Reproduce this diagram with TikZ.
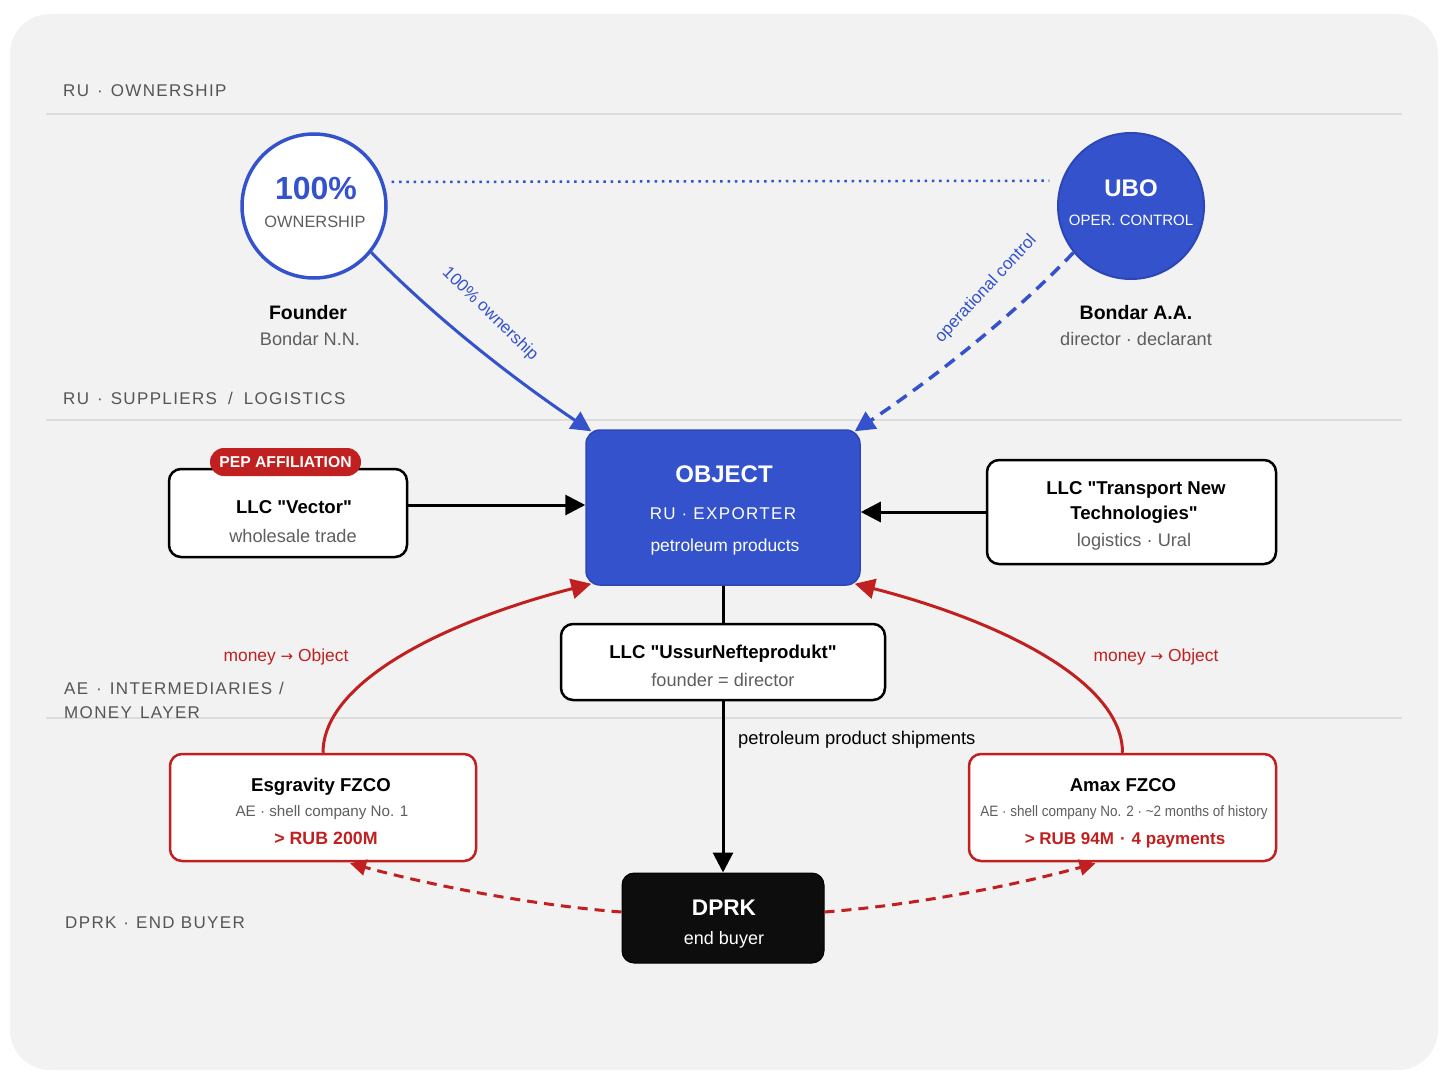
\documentclass[tikz,border=0pt]{standalone}
\usepackage{graphicx}
\usepackage{fontspec}
\setmainfont{Liberation Sans}
\newfontfamily\spacedfont[LetterSpace=8]{Liberation Sans}
\newfontfamily\dejavu{DejaVu Sans}
\usetikzlibrary{arrows.meta,calc}
\definecolor{bgc}{HTML}{F2F2F2}
\definecolor{rulec}{HTML}{DCDCDC}
\definecolor{blu}{HTML}{3352CC}
\definecolor{bluedge}{HTML}{2C47B5}
\definecolor{redc}{HTML}{C0201F}
\definecolor{grayt}{HTML}{5E5E5E}
\definecolor{sectc}{HTML}{555555}
\newcommand\fs[1]{\fontsize{#1}{#1}\selectfont}
\newcommand\sdot{\hspace{8pt}·\hspace{8pt}}
\newcommand\sslash{\hspace{11pt}/\hspace{11pt}}
\newcommand\qq{\textquotedbl}
\newcommand\rarr{{\dejavu\fs{15}→}}
\begin{document}
\begin{tikzpicture}[x=1pt,y=-1pt,
  sectlabel/.style={anchor=base west, text=sectc, font=\spacedfont\fs{17}, inner sep=0},
  sectrule/.style={draw=rulec, line width=1.2pt},
  card/.style={draw=black, line width=2.5pt, fill=white, rounded corners=12pt, inner sep=0},
  redcard/.style={card, draw=redc},
  ttl/.style={anchor=base, font=\bfseries\fs{18.6}, inner sep=0},
  sub/.style={anchor=base, font=\fs{18.2}, text=grayt, inner sep=0},
  arr/.style={line width=3pt, -{Triangle[length=20pt,width=20pt]}}
]
% background
\fill[white] (0,0) rectangle (1448,1086);
\fill[bgc, rounded corners=40pt] (10,14) rectangle (1438,1070);
\useasboundingbox (0,0) rectangle (1448,1086);

% section rules and labels
\draw[sectrule] (46,114) -- (1402,114);
\draw[sectrule] (46,420) -- (1402,420);
\draw[sectrule] (46,718) -- (1402,718);
\node[sectlabel] (s1) at (63,97) {RU\sdot OWNERSHIP};
\node[sectlabel] (s2) at (63,404) {RU\sdot SUPPLIERS\sslash LOGISTICS};
\node[sectlabel] (s3) at (64,694) {AE\sdot INTERMEDIARIES\hspace{7pt}/};
\node[sectlabel] (s3b) at (64,718) {MONEY\hspace{2pt} LAYER};
\node[sectlabel] (s4) at (65,928) {DPRK\hspace{7pt}·\hspace{7pt}END BUYER};

% circles
\node[circle, draw=blu, line width=3.5pt, fill=white, minimum size=144pt, inner sep=0] (fc) at (314,206) {};
\node[anchor=base, text=blu, font=\bfseries\fs{32}, inner sep=0] (fcT) at (316,199.5) {100\%};
\node[anchor=base, text=grayt, font=\fs{16.4}, inner sep=0] (fcS) at (315,228) {OWNERSHIP};
\node[ttl, font=\bfseries\fs{19.5}] (fN) at (308,319) {Founder};
\node[sub] (fS) at (310,345) {Bondar N.N.};

\node[circle, draw=bluedge, line width=2pt, fill=blu, minimum size=146pt, inner sep=0] (ubo) at (1131,206) {};
\node[anchor=base, text=white, font=\bfseries\fs{24}, inner sep=0] (uboT) at (1131,196.5) {UBO};
\node[anchor=base, text=white, font=\fs{15}, inner sep=0] (uboS) at (1131,225.5) {OPER. CONTROL};
\node[ttl, font=\bfseries\fs{19.5}] (uN) at (1136,319) {Bondar A.A.};
\node[sub] (uS) at (1136,345) {director · declarant};

\draw[blu, line width=2.5pt, dash pattern=on 2.5pt off 4.8pt, shorten <=8pt, shorten >=12pt] (fc.19.5) -- (ubo.160.5);

% object
\node[draw=bluedge, line width=1.5pt, fill=blu, rounded corners=14pt, minimum width=274pt, minimum height=155pt, inner sep=0] (obj) at (723,507.5) {};
\node[anchor=base, text=white, font=\bfseries\fs{24}, inner sep=0] (objT) at (724,482.5) {OBJECT};
\node[anchor=base, text=white, font=\spacedfont\fs{17}, inner sep=0] (objS) at (723,519) {RU\hspace{6pt}·\hspace{6pt}EXPORTER};
\node[anchor=base, text=white, font=\fs{17.4}, inner sep=0] (objP) at (725,551) {petroleum products};

% vector
\node[card, minimum width=238pt, minimum height=88pt] (vector) at (288,513) {};
\node[fill=redc, rounded corners=14pt, minimum width=151pt, minimum height=28pt, inner sep=0] (pep) at (285.5,462) {};
\node[anchor=base, text=white, font=\bfseries\fs{15.7}, inner sep=0] (pepT) at (285.5,467.5) {PEP AFFILIATION};
\node[ttl] (vecT) at (294,513) {LLC \qq Vector\qq};
\node[sub] (vecS) at (293,542) {wholesale trade};

% transport
\node[card, minimum width=289pt, minimum height=104pt] (tnt) at (1131.5,512) {};
\node[ttl] (tntT) at (1136,494) {LLC \qq Transport New};
\node[ttl] (tntT2) at (1134,519) {Technologies\qq};
\node[sub] (tntS) at (1134,546) {logistics · Ural};

% ussur
\node[card, minimum width=324pt, minimum height=76pt] (ussur) at (723,662) {};
\node[ttl] (usT) at (723,658) {LLC \qq UssurNefteprodukt\qq};
\node[sub] (usS) at (723,686) {founder = director};

% esgravity
\node[redcard, minimum width=306pt, minimum height=107pt] (esg) at (323,807.5) {};
\node[ttl] (esT) at (321,791) {Esgravity FZCO};
\node[sub, font=\fs{15.2}] (esS) at (322,816.5) {AE · shell company No. 1};
\node[anchor=base, text=redc, font=\bfseries\fs{17.8}, inner sep=0] (esR) at (326,844.5) {> RUB 200M};

% amax
\node[redcard, minimum width=307pt, minimum height=107pt] (amax) at (1122.5,807.5) {};
\node[ttl] (amT) at (1123,791) {Amax FZCO};
\node[sub, font=\fs{15}] (amS) at (1124,816.5) {\scalebox{0.9}[1]{AE · shell company No. 2 · \textasciitilde2 months of history}};
\node[anchor=base, text=redc, font=\bfseries\fs{17}, inner sep=0] (amR) at (1125,844.5) {> RUB 94M\hspace{6pt}·\hspace{6pt}4 payments};

% dprk
\node[fill=black!95, draw=black, line width=1pt, rounded corners=12pt, minimum width=202pt, minimum height=90pt, inner sep=0] (dprk) at (723,918) {};
\node[anchor=base, text=white, font=\bfseries\fs{22.6}, inner sep=0] (dpT) at (724,915) {DPRK};
\node[anchor=base, text=white, font=\fs{18}, inner sep=0] (dpS) at (724,944) {end buyer};

% connectors
\draw[blu, line width=3pt, -{Triangle[length=20pt,width=20pt]}]
  (fc.-39) .. controls (435,318) and (515,380) .. ([xshift=6pt,yshift=-2pt]obj.north west);
\node[text=blu, font=\fs{17}, rotate=-44, inner sep=0] (lown) at (490,314) {100\% ownership};
\draw[blu, line width=3.5pt, dash pattern=on 12pt off 8pt, -{Triangle[length=20pt,width=20pt]}]
  (ubo.219) .. controls (1011,318) and (931,380) .. ([xshift=-6pt,yshift=-2pt]obj.north east);
\node[text=blu, font=\fs{17}, rotate=47, inner sep=0] (lop) at (986,289) {operational control};

\draw[arr] ([yshift=8pt]vector.east) coordinate (va) -- (va -| obj.west);
\draw[arr] (tnt.west) -- (tnt.west -| obj.east);

\draw[line width=3pt] (obj.south) -- (ussur.north);
\draw[arr] (ussur.south) -- (dprk.north);
\node[anchor=base west, font=\fs{18.4}, inner sep=0] (ship) at (738,744) {petroleum product shipments};

\draw[redc, arr] (esg.north) .. controls (323,680) and (450,620) .. ([xshift=6pt,yshift=2pt]obj.south west);
\draw[redc, arr] (amax.north) .. controls (1122.5,680) and (996,620) .. ([xshift=-6pt,yshift=2pt]obj.south east);
\node[anchor=base, text=redc, font=\fs{17.4}, inner sep=0] (m1) at (286,661) {money \rarr\ Object};
\node[anchor=base, text=redc, font=\fs{17.4}, inner sep=0] (m2) at (1156,661) {money \rarr\ Object};

\draw[redc, line width=3pt, dash pattern=on 10pt off 7pt, -{Triangle[length=16pt,width=16pt]}]
  ([yshift=6pt]dprk.west) .. controls (530,905) and (430,885) .. ([xshift=27pt,yshift=-1pt]esg.south);
\draw[redc, line width=3pt, dash pattern=on 10pt off 7pt, -{Triangle[length=16pt,width=16pt]}]
  ([yshift=6pt]dprk.east) .. controls (916,905) and (1016,885) .. ([xshift=-27pt,yshift=-1pt]amax.south);
\end{tikzpicture}
\end{document}
